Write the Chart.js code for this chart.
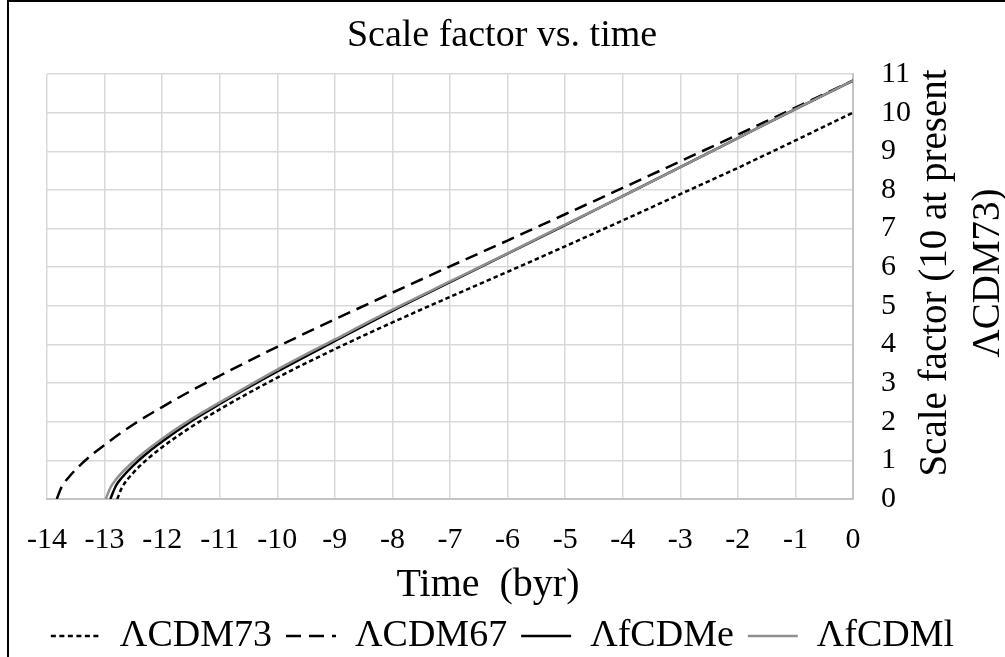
<!DOCTYPE html>
<html>
<head>
<meta charset="utf-8">
<script src="https://cdn.jsdelivr.net/npm/chart.js@4.4.0/dist/chart.umd.min.js"></script>
<style>
html, body { margin: 0; padding: 0; background: #fff; overflow: hidden; }
#wrap { position: relative; width: 1005px; height: 657px; overflow: hidden; }
</style>
</head>
<body>
<div id="wrap"><canvas id="chart" width="1005" height="665"></canvas></div>
<script>
/* data */
const chartTitle = 'Scale factor vs. time';
const xTitle = 'Time  (byr)';
const yTitle = ['Scale factor (10 at present', 'ΛCDM73)'];
const seriesNames = ['ΛCDM73', 'ΛCDM67', 'ΛfCDMe', 'ΛfCDMl'];

const tCDM73 = [-12.78, -12.7, -12.5, -12.25, -12, -11.5, -11, -10, -9, -8, -7, -6, -5, -4, -3, -2, -1, 0];
const aCDM73 = [0, 0.29, 0.68, 1.04, 1.34, 1.86, 2.32, 3.14, 3.88, 4.57, 5.23, 5.88, 6.54, 7.21, 7.89, 8.57, 9.28, 10.0];

const tCDM67 = [-13.83, -13.75, -13.6, -13.4, -13.2, -13, -12.5, -12, -11.5, -11, -10, -9, -8, -7, -6, -5, -4, -3, -2, -1, 0];
const aCDM67 = [0, 0.30, 0.60, 0.91, 1.17, 1.40, 1.93, 2.38, 2.80, 3.19, 3.94, 4.65, 5.34, 6.02, 6.69, 7.37, 8.05, 8.74, 9.43, 10.13, 10.83];

const tfCDMe = [-12.9, -12.8, -12.7, -12.5, -12.3, -12.1, -11.5, -11, -10, -9, -8, -7, -6, -5, -4, -3, -2, -1, 0];
const afCDMe = [0, 0.35, 0.55, 0.87, 1.14, 1.38, 2.01, 2.46, 3.30, 4.09, 4.87, 5.61, 6.35, 7.09, 7.84, 8.59, 9.34, 10.09, 10.83];

const tfCDMl = [-12.98, -12.9, -12.8, -12.6, -12.4, -12.2, -12, -11.5, -11, -10, -9, -8, -7, -6, -5, -4, -3, -2, -1, 0];
const afCDMl = [0, 0.29, 0.51, 0.83, 1.10, 1.34, 1.56, 2.06, 2.50, 3.35, 4.13, 4.90, 5.63, 6.36, 7.10, 7.84, 8.59, 9.34, 10.09, 10.83];

const xTicks = { min: -14, max: 0, step: 1 };
const yTicks = { min: 0, max: 11, step: 1 };

const pts = (t, a) => t.map((x, i) => ({ x: x, y: a[i] }));
const serif = '"Liberation Serif", "Times New Roman", serif';

// title, axis titles and the frame line
const extraText = {
    id: 'extraText',
    afterLayout(chart) {
        // centre the legend row on the whole canvas, not on the padded box
        if (chart.legend) {
            chart.legend.left = 0;
            chart.legend.right = chart.width;
        }
    },
    afterDraw(chart) {
        const ctx = chart.ctx;
        ctx.save();
        ctx.fillStyle = '#000';
        ctx.font = '38px ' + serif;
        ctx.textAlign = 'center';
        ctx.textBaseline = 'alphabetic';
        ctx.fillText(chartTitle, 502, 46);
        ctx.font = '40px ' + serif;
        ctx.fillText(xTitle, 488, 596);

        ctx.font = '39px ' + serif;
        ctx.save();
        ctx.translate(946, 273);
        ctx.rotate(-Math.PI / 2);
        ctx.fillText(yTitle[0], 0, 0);
        ctx.restore();
        ctx.save();
        ctx.translate(999, 273);
        ctx.rotate(-Math.PI / 2);
        ctx.fillText(yTitle[1], 0, 0);
        ctx.restore();

        ctx.strokeStyle = '#000';
        ctx.lineWidth = 2;
        ctx.beginPath();
        ctx.moveTo(8, 665);
        ctx.lineTo(8, 1);
        ctx.lineTo(1005, 1);
        ctx.stroke();
        ctx.restore();
    }
};

new Chart(document.getElementById('chart'), {
    type: 'line',
    data: {
        datasets: [{
            label: seriesNames[0],
            data: pts(tCDM73, aCDM73),
            borderColor: '#000',
            borderWidth: 2.5,
            borderDash: [4.5, 3],
            legendDash: [5, 3.5],
            order: 3
        }, {
            label: seriesNames[1],
            data: pts(tCDM67, aCDM67),
            borderColor: '#000',
            borderWidth: 2.5,
            borderDash: [13, 7],
            legendDash: [15, 8],
            order: 2
        }, {
            label: seriesNames[2],
            data: pts(tfCDMe, afCDMe),
            borderColor: '#000',
            borderWidth: 2.5,
            order: 1
        }, {
            label: seriesNames[3],
            data: pts(tfCDMl, afCDMl),
            borderColor: '#8f8f8f',
            borderWidth: 2.5,
            order: 0
        }]
    },
    options: {
        responsive: false,
        animation: false,
        layout: { padding: { left: 47, top: 74, right: 0, bottom: 0 } },
        elements: {
            point: { radius: 0 },
            line: { cubicInterpolationMode: 'monotone', fill: false }
        },
        scales: {
            x: {
                type: 'linear',
                min: xTicks.min,
                max: xTicks.max,
                afterFit: (scale) => { scale.height = 104; },
                grid: { color: '#d9d9d9', lineWidth: 1.5, drawTicks: false },
                border: { color: '#c4c4c4', width: 2 },
                ticks: {
                    stepSize: xTicks.step,
                    autoSkip: false,
                    maxRotation: 0,
                    padding: 23,
                    color: '#000',
                    font: { family: serif, size: 30 },
                    callback: (v) => String(v)
                }
            },
            y: {
                position: 'right',
                min: yTicks.min,
                max: yTicks.max,
                afterFit: (scale) => { scale.width = 152; },
                grid: { color: '#d9d9d9', lineWidth: 1.5, drawTicks: false },
                border: { color: '#c4c4c4', width: 2 },
                ticks: {
                    stepSize: yTicks.step,
                    autoSkip: false,
                    padding: 28,
                    color: '#000',
                    font: { family: serif, size: 30 },
                    callback: (v) => String(v)
                }
            }
        },
        plugins: {
            title: { display: false },
            tooltip: { enabled: false },
            legend: {
                position: 'bottom',
                labels: {
                    usePointStyle: true,
                    pointStyle: 'line',
                    pointStyleWidth: 50,
                    padding: 14,
                    color: '#000',
                    font: { family: serif, size: 38, lineHeight: 1 },
                    sort: (a, b) => a.datasetIndex - b.datasetIndex,
                    generateLabels: (chart) => {
                        const items = Chart.defaults.plugins.legend.labels.generateLabels(chart);
                        items.forEach((item) => {
                            const ds = chart.data.datasets[item.datasetIndex];
                            item.lineDash = ds.legendDash || [];
                            item.strokeStyle = ds.borderColor;
                            item.lineWidth = 2.5;
                        });
                        return items;
                    }
                }
            }
        }
    },
    plugins: [extraText]
});
</script>
</body>
</html>
